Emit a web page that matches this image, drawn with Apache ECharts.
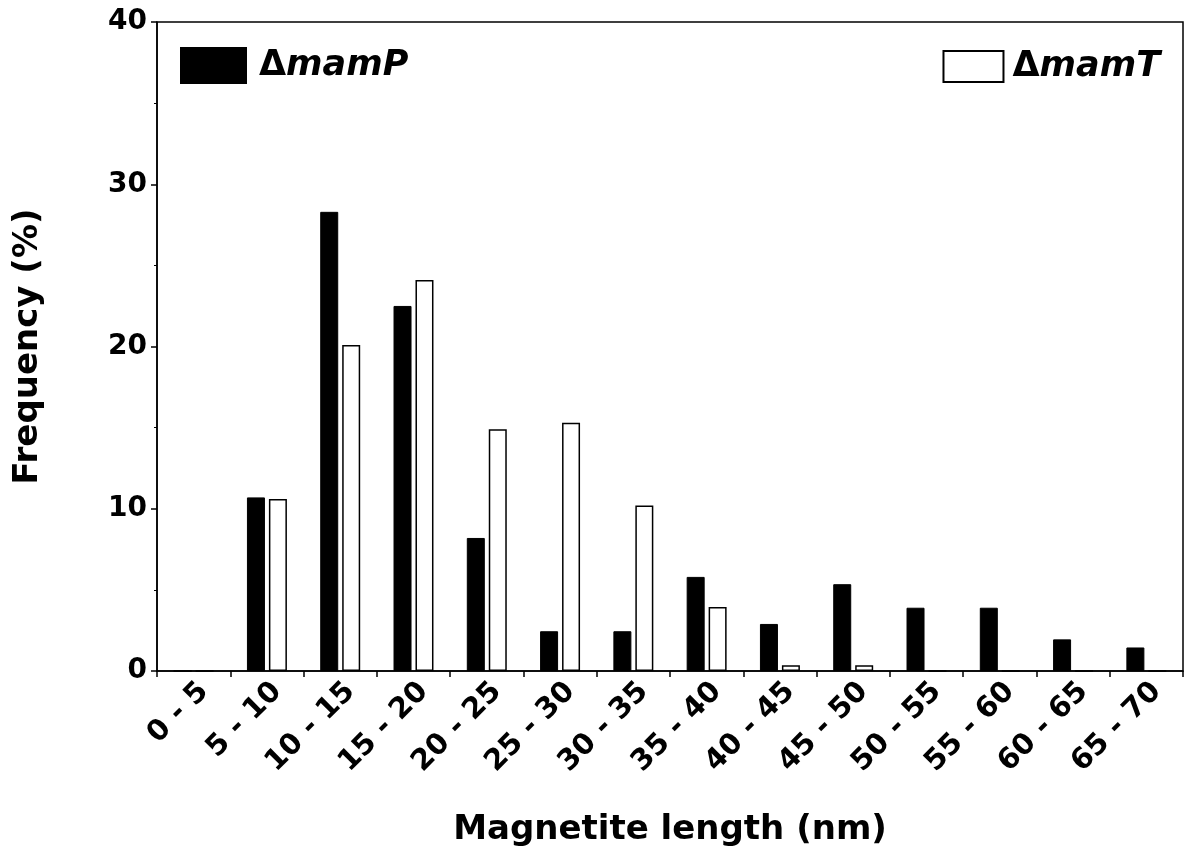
<!DOCTYPE html>
<html>
<head>
<meta charset="utf-8">
<script src="https://cdn.jsdelivr.net/npm/echarts@6/dist/echarts.min.js"></script>
<style>html,body{margin:0;padding:0;background:#fff}#c{width:1184px;height:852px}</style>
</head>
<body>
<div id="c"></div>
<script>
const categories = ['0 - 5','5 - 10','10 - 15','15 - 20','20 - 25','25 - 30','30 - 35','35 - 40','40 - 45','45 - 50','50 - 55','55 - 60','60 - 65','65 - 70'];
const mamP = [0, 10.7, 28.3, 22.5, 8.2, 2.45, 2.45, 5.8, 2.9, 5.35, 3.9, 3.9, 1.95, 1.45];
const mamT = [0, 10.6, 20.1, 24.1, 14.9, 15.3, 10.2, 3.95, 0.35, 0.35, 0, 0, 0, 0];
const seriesNames = ['mamP', 'mamT'];
const yTicks = [0, 10, 20, 30, 40];

const font = 'DejaVu Sans';
const chart = echarts.init(document.getElementById('c'), null, {renderer: 'canvas'});
const legendText = {
  fontFamily: font, fontSize: 35, color: '#000',
  rich: {
    d: {fontFamily: font, fontSize: 35, fontWeight: 'bold', fontStyle: 'normal', color: '#000'},
    i: {fontFamily: font, fontSize: 35, fontWeight: 'bold', fontStyle: 'italic', color: '#000'}
  }
};
chart.setOption({
  animation: false,
  backgroundColor: '#fff',
  grid: {left: 157, right: 1, top: 22, bottom: 179, show: true, borderColor: '#000', borderWidth: 1.5, backgroundColor: 'transparent'},
  legend: [
    {data: [{name: seriesNames[0], icon: 'rect'}], left: 180, top: 47, padding: 0, itemWidth: 65, itemHeight: 35, itemGap: 10,
     formatter: n => '{d|Δ}{i|' + n + '}', textStyle: Object.assign({padding: [0,0,0,8]}, legendText)},
    {data: [{name: seriesNames[1], icon: 'rect'}], right: 24, top: 49, padding: 0, itemWidth: 60, itemHeight: 31, itemGap: 10,
     formatter: n => '{d|Δ}{i|' + n + '}', textStyle: Object.assign({padding: [0,0,0,4]}, legendText)}
  ],
  xAxis: {
    type: 'category', data: categories,
    name: 'Magnetite length (nm)', nameLocation: 'middle', nameGap: 142,
    nameTextStyle: {fontFamily: font, fontSize: 34, fontWeight: 'bold', color: '#000'},
    axisLine: {lineStyle: {color: '#000', width: 1.5}},
    axisTick: {show: true, alignWithLabel: false, length: 6, lineStyle: {color: '#000', width: 1.5}},
    axisLabel: {rotate: 45, margin: 6, verticalAlign: 'top', fontFamily: font, fontSize: 29, fontWeight: 'bold', color: '#000', interval: 0}
  },
  yAxis: {
    type: 'value', min: 0, max: 40, interval: 10,
    name: 'Frequency (%)', nameLocation: 'middle', nameGap: 112, nameRotate: 90,
    nameTextStyle: {fontFamily: font, fontSize: 34, fontWeight: 'bold', color: '#000'},
    axisLine: {show: true, lineStyle: {color: '#000', width: 1.5}},
    axisTick: {show: true, length: 6, lineStyle: {color: '#000', width: 1.5}},
    minorTick: {show: true, splitNumber: 2, length: 3, lineStyle: {color: '#000', width: 1}},
    splitLine: {show: false},
    axisLabel: {margin: 10, fontFamily: font, fontSize: 28, fontWeight: 'bold', color: '#000',
      formatter: v => yTicks.includes(v) ? String(v) : ''}
  },
  series: [
    {name: seriesNames[0], type: 'bar', data: mamP, barWidth: 18, barGap: '22%',
     itemStyle: {color: '#000', borderColor: '#000', borderWidth: 1}},
    {name: seriesNames[1], type: 'bar', data: mamT, barWidth: 18,
     itemStyle: {color: '#fff', borderColor: '#000', borderWidth: 1.5}}
  ]
});
</script>
</body>
</html>
